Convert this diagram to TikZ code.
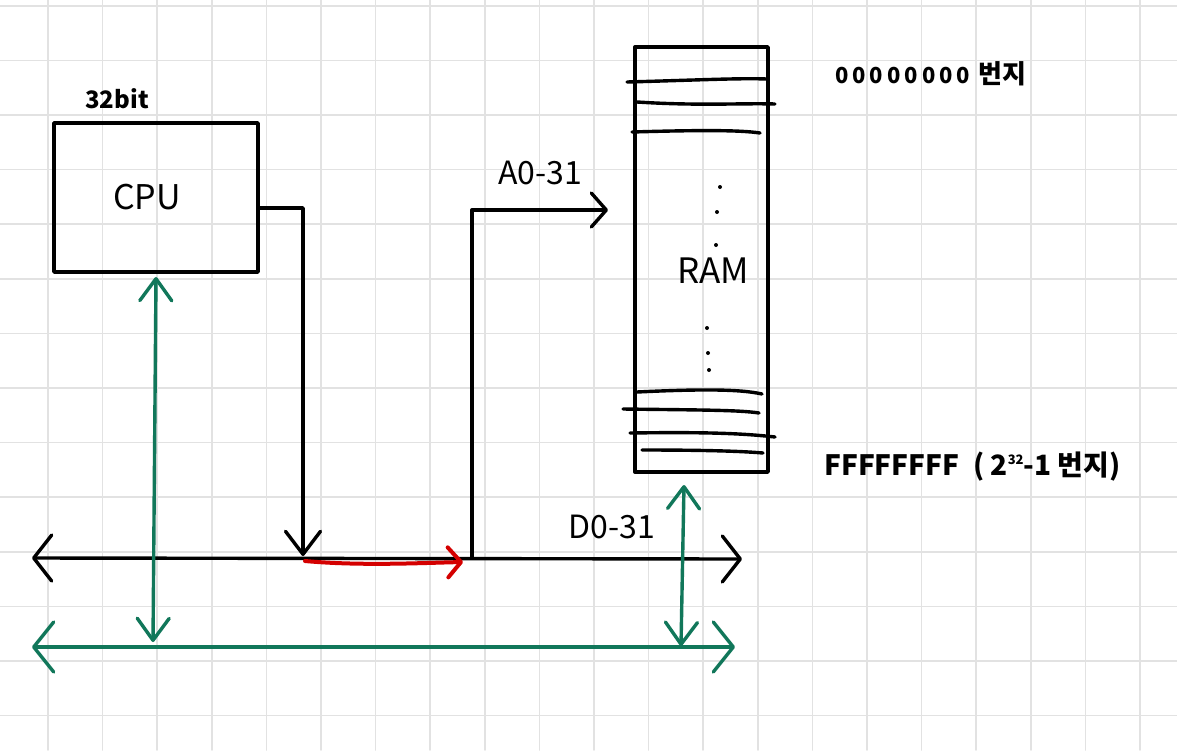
\documentclass[tikz,border=0pt]{standalone}
\usepackage{fontspec}
\setmainfont{Noto Sans CJK KR}
\usetikzlibrary{arrows.meta}
\definecolor{gridc}{HTML}{E2E2E2}
\definecolor{grn}{HTML}{11775A}
\definecolor{redc}{HTML}{D40000}
\begin{document}
\begin{tikzpicture}[x=1pt,y=-1pt,line cap=round,line join=round,
  ln/.style={line width=3.4pt,black},
  gl/.style={line width=3.4pt,grn},
  rl/.style={line width=4pt,redc},
  box/.style={draw,line width=3.4pt,inner sep=0pt},
  lbl/.style={inner sep=0pt,font=\fontsize{32}{34}\selectfont},
  tipbus/.tip={Straight Barb[round,length=18pt,width=46pt]},
  tipgbus/.tip={Straight Barb[round,length=20pt,width=50pt]},
  tipdown/.tip={Straight Barb[round,length=23pt,width=35pt]},
  tipgv/.tip={Straight Barb[round,length=22pt,width=32pt]},
  tipred/.tip={Straight Barb[round,length=13pt,width=30pt]},
  tipaddr/.tip={Straight Barb[round,length=15pt,width=34pt]}]
\useasboundingbox (0,0) rectangle (1177,750);
\fill[white] (0,0) rectangle (1177,750);
\begin{scope}
\clip (0,0) rectangle (1177,750);
\foreach \i in {0,...,20} \draw[gridc,line width=1.5pt] ({48+54.6*\i},0) -- ({48+54.6*\i},750);
\foreach \i in {-2,...,11} \draw[gridc,line width=1.5pt] (0,{115+54.6*\i}) -- (1177,{115+54.6*\i});
\end{scope}

% CPU
\node[box,minimum width=204pt,minimum height=149pt] (cpu) at (156,197.5) {};
\node[lbl,font=\fontsize{34}{36}\selectfont] (cpulbl) at (147,197) {CPU};
\node[inner sep=0pt,font=\fontsize{24}{26}\bfseries\selectfont] (bits) at (117,99) {32bit};

% RAM
\node[box,minimum width=133pt,minimum height=425pt] (ram) at (701.5,259.5) {};
\node[lbl,font=\fontsize{35}{37}\selectfont] (ramlbl) at (713,271) {RAM};
\draw[ln] (627,82) .. controls (700,80) and (740,78) .. (767,79);
\draw[ln] (637,102) .. controls (700,106) and (740,103) .. (775,104);
\draw[ln] (632,132) .. controls (700,130) and (740,130) .. (760,133);
\draw[ln] (637,392) .. controls (700,389) and (740,389) .. (762,394);
\draw[ln] (623,409) .. controls (700,410) and (740,410) .. (759,413);
\draw[ln] (630,433) .. controls (700,432) and (740,433) .. (775,437);
\draw[ln] (642,450) .. controls (700,450) and (740,451) .. (763,453);
\foreach \p in {(720,187),(717,212),(716,245),(707,328),(708,353),(709,370)}
  \fill \p circle (2pt);

% labels
\node[inner sep=0pt,anchor=west,font=\fontsize{22}{24}\bfseries\selectfont] (addr0) at (835,74)
  {0\hspace{4pt}0\hspace{4pt}0\hspace{4pt}0\hspace{4pt}0\hspace{4pt}0\hspace{4pt}0\hspace{4pt}0\hspace{8pt}{\fontsize{26}{28}\selectfont 번지}};
\node[inner sep=0pt,anchor=west,font=\fontsize{28}{30}\bfseries\selectfont] (addrF) at (824,467)
  {FFFFFFFF\hspace{14pt}(\hspace{6pt}2\raisebox{11pt}{\fontsize{13}{13}\selectfont 32}-1 번지)};
\node[lbl] (alab) at (540,173) {A0-31};
\node[lbl] (dlab) at (612,527) {D0-31};

% coordinates
\coordinate (cpuout) at (258,208);
\coordinate (busjoin) at (303,556);
\coordinate (busL) at (32,558);
\coordinate (busR) at (742,559);
\coordinate (redS) at (305,561);
\coordinate (redE) at (463,562);
\coordinate (addrS) at (472,558);
\coordinate (addrE) at (608,210);
\coordinate (gL) at (32,647);
\coordinate (gR) at (735,647);
\coordinate (cpugT) at (156,277);
\coordinate (cpugB) at (153,642);
\coordinate (ramgT) at (684,485);
\coordinate (ramgB) at (681,646);

% black bus and connectors
\draw[ln,{tipbus}-{tipbus}] (busL) -- (busR);
\draw[ln,-{tipdown}] (cpuout) -| (busjoin);
\draw[ln,-{tipaddr}] (addrS) |- (addrE);
\draw[rl,-{tipred}] (redS) .. controls (360,566) and (420,563) .. (redE);

% green data bus
\draw[gl,{tipgbus}-{tipgbus}] (gL) -- (gR);
\draw[gl,{tipgv}-{tipgv}] (cpugT) -- (cpugB);
\draw[gl,{tipgv}-{tipgv}] (ramgT) -- (ramgB);
\end{tikzpicture}
\end{document}
